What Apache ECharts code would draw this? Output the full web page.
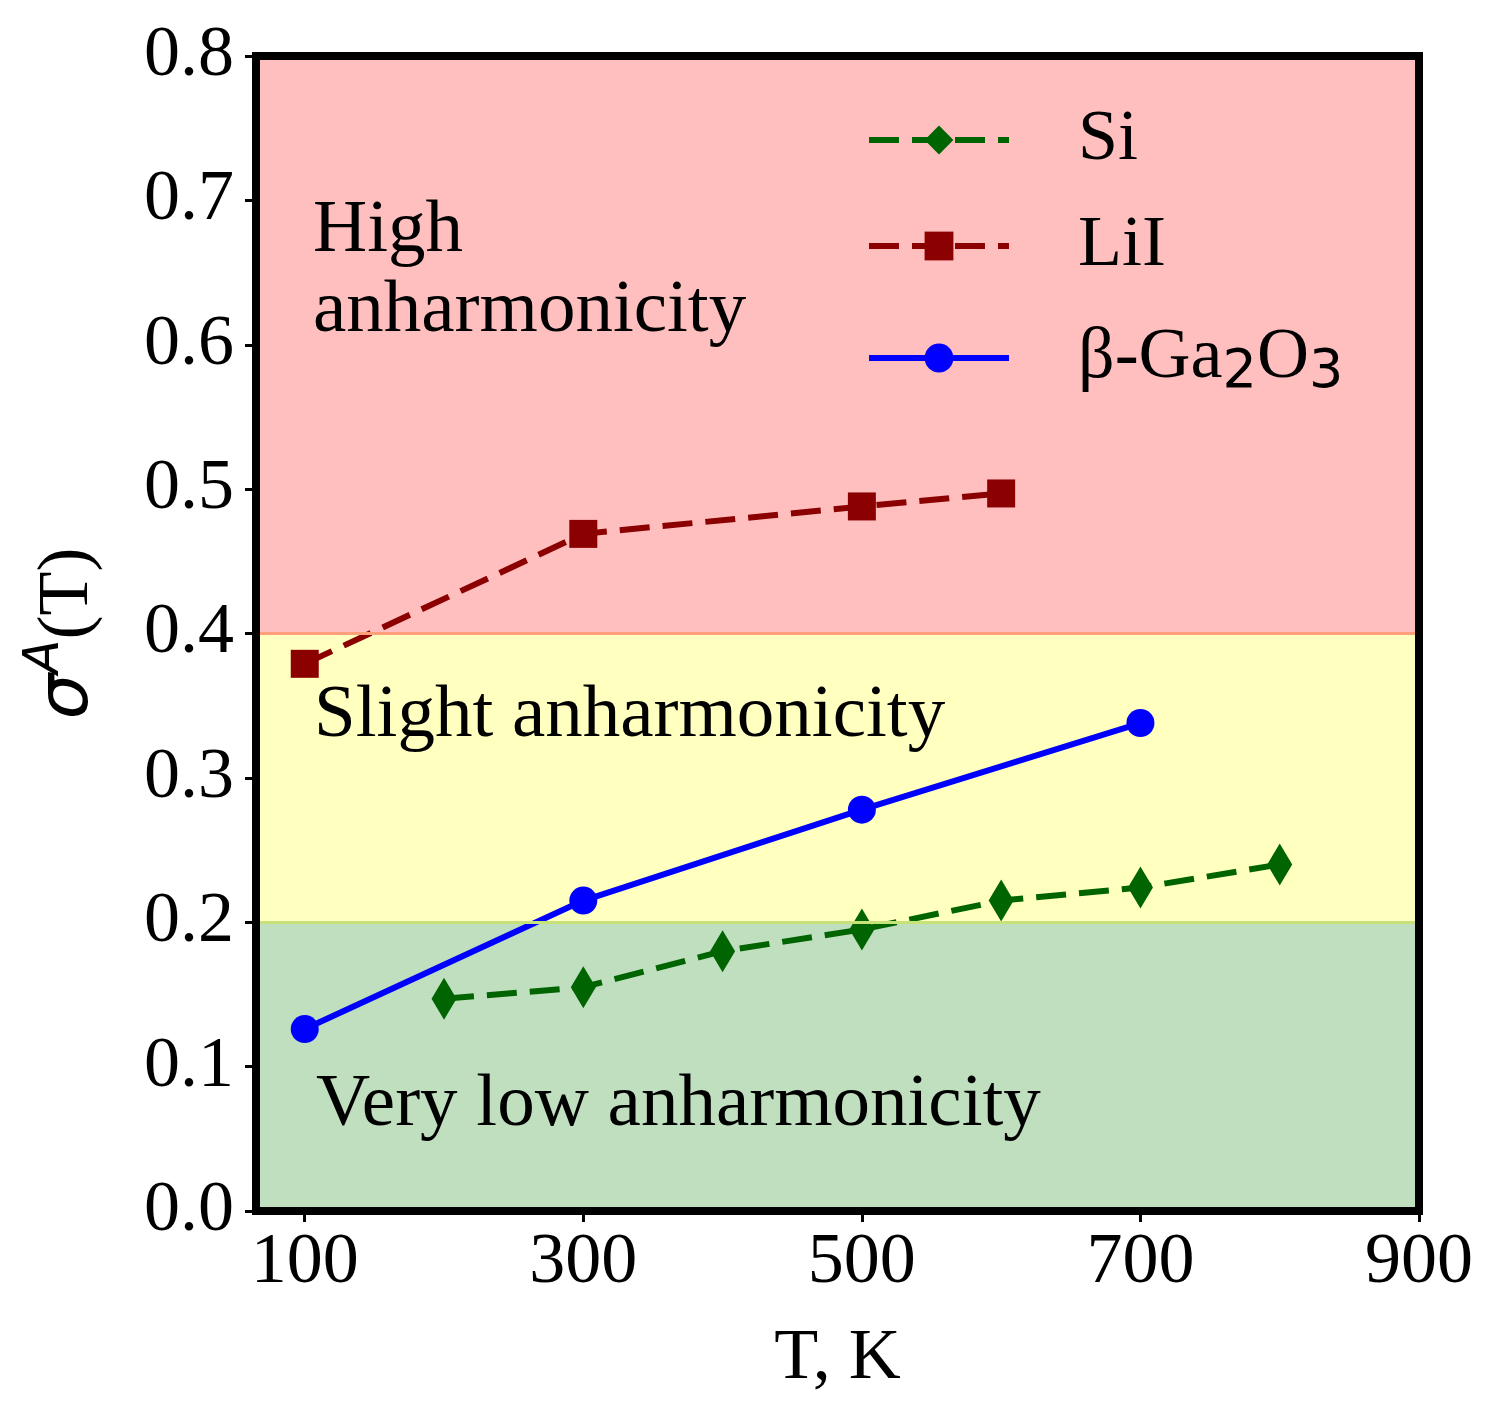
<!DOCTYPE html>
<html>
<head>
<meta charset="utf-8">
<script src="https://cdn.jsdelivr.net/npm/echarts@6/dist/echarts.min.js"></script>
<style>
  html, body { margin: 0; padding: 0; background: #fff; }
  #chart { width: 1504px; height: 1425px; }
</style>
</head>
<body>
<div id="chart"></div>
<script>
// values
const xTicks = [100, 300, 500, 700, 900];
const siT = [200, 300, 400, 500, 600, 700, 800];
const siSigma = [0.147, 0.155, 0.180, 0.195, 0.215, 0.224, 0.240];
const liiT = [100, 300, 500, 600];
const liiSigma = [0.379, 0.469, 0.488, 0.497];
const gaT = [100, 300, 500, 700];
const gaSigma = [0.126, 0.215, 0.278, 0.338];
const bandEdges = [0, 0.2, 0.4, 0.8];
const seriesNames = ['Si', 'LiI', 'β-Ga2O3'];

const FONT = 'Liberation Serif';
const pts = (xs, ys) => xs.map((x, i) => [x, ys[i]]);

const bandFill = ['#bfdfbf', '#ffffbf', '#ffbfbf'];
const edgeColor = ['#c8e27a', '#ffa07a'];

const chart = echarts.init(document.getElementById('chart'), null, { renderer: 'canvas' });

const frameAxis = {
  z: 10,
  axisLine: { show: true, onZero: false, lineStyle: { color: '#000', width: 8, cap: 'square' } },
  axisTick: { show: false }, axisLabel: { show: false }, splitLine: { show: false }
};

const option = {
  animation: false,
  backgroundColor: '#fff',
  grid: { left: 256, right: 85, top: 56, bottom: 214 },
  xAxis: [{
    type: 'value', min: 65, max: 900, position: 'bottom', z: 10,
    name: 'T, K', nameLocation: 'middle', nameGap: 112,
    nameTextStyle: { fontFamily: FONT, fontSize: 72, color: '#000' },
    axisLine: { show: true, onZero: false, lineStyle: { color: '#000', width: 8, cap: 'square' } },
    axisTick: { show: true, customValues: xTicks, length: 11, lineStyle: { color: '#000', width: 3 } },
    axisLabel: { customValues: xTicks, fontFamily: FONT, fontSize: 72, color: '#000', margin: 16 },
    splitLine: { show: false }
  }, Object.assign({ type: 'value', position: 'top', min: 65, max: 900 }, frameAxis)],
  yAxis: [{
    type: 'value', min: 0, max: 0.8, interval: 0.1, z: 10,
    name: '{s|σ}{a|A}{n|(T)}', nameLocation: 'middle', nameGap: 140, nameRotate: 90,
    nameTextStyle: {
      color: '#000',
      rich: {
        s: { fontFamily: 'DejaVu Sans', fontStyle: 'italic', fontSize: 72, color: '#000' },
        a: { fontFamily: 'DejaVu Sans', fontStyle: 'italic', fontSize: 50, color: '#000', padding: [0, 0, 46, 0] },
        n: { fontFamily: FONT, fontSize: 72, color: '#000' }
      }
    },
    axisLine: { show: true, onZero: false, lineStyle: { color: '#000', width: 8, cap: 'square' } },
    axisTick: { show: true, length: 11, lineStyle: { color: '#000', width: 3 } },
    axisLabel: { fontFamily: FONT, fontSize: 72, color: '#000', margin: 22, formatter: v => v.toFixed(1) },
    splitLine: { show: false }
  }, Object.assign({ type: 'value', position: 'right', min: 0, max: 0.8 }, frameAxis)],
  legend: {
    orient: 'vertical', left: 861, top: 99, itemWidth: 140, itemHeight: 36, itemGap: 34,
    data: seriesNames,
    lineStyle: { width: 6 },
    formatter: n => n === 'β-Ga2O3' ? '{n|β-Ga}{s|2}{n|O}{s|3}' : n,
    textStyle: {
      fontFamily: FONT, fontSize: 72, color: '#000', lineHeight: 72, padding: [0, 0, 0, 64],
      rich: {
        n: { fontFamily: FONT, fontSize: 72, color: '#000', lineHeight: 72 },
        s: { fontFamily: 'DejaVu Sans', fontSize: 54, color: '#000', lineHeight: 72, padding: [30, 0, 0, 0] }
      }
    }
  },
  graphic: [
    { type: 'text', silent: true, z: 20,
      style: { text: 'High\nanharmonicity', x: 313, y: 271, font: '75px "Liberation Serif"', lineHeight: 80, fill: '#000', verticalAlign: 'middle' } },
    { type: 'text', silent: true, z: 20,
      style: { text: 'Slight anharmonicity', x: 314, y: 716, font: '75px "Liberation Serif"', fill: '#000', verticalAlign: 'middle' } },
    { type: 'text', silent: true, z: 20,
      style: { text: 'Very low anharmonicity', x: 316, y: 1105, font: '75px "Liberation Serif"', fill: '#000', verticalAlign: 'middle' } }
  ],
  series: [
    {
      type: 'line', data: [], silent: true, z: 1,
      markArea: {
        silent: true,
        data: bandFill.map((c, i) => [
          { yAxis: bandEdges[i], itemStyle: { color: c, opacity: 1 } },
          { yAxis: bandEdges[i + 1] }
        ])
      },
      markLine: {
        silent: true, symbol: 'none', label: { show: false },
        data: edgeColor.map((c, i) => ({ yAxis: bandEdges[i + 1], lineStyle: { color: c, width: 3, type: 'solid' } }))
      }
    },
    {
      name: 'Si', type: 'line', data: pts(siT, siSigma), z: 3,
      symbol: 'diamond', symbolSize: [25, 42],
      lineStyle: { color: '#006400', width: 6, type: [30, 13] },
      itemStyle: { color: '#006400', borderWidth: 0 }
    },
    {
      name: 'LiI', type: 'line', data: pts(liiT, liiSigma), z: 3,
      symbol: 'rect', symbolSize: 28,
      lineStyle: { color: '#8b0000', width: 6, type: [30, 13] },
      itemStyle: { color: '#8b0000', borderWidth: 0 }
    },
    {
      name: 'β-Ga2O3', type: 'line', data: pts(gaT, gaSigma), z: 4,
      symbol: 'circle', symbolSize: 28,
      lineStyle: { color: '#0000ff', width: 6 },
      itemStyle: { color: '#0000ff', borderWidth: 0 }
    }
  ]
};

chart.setOption(option);
</script>
</body>
</html>
